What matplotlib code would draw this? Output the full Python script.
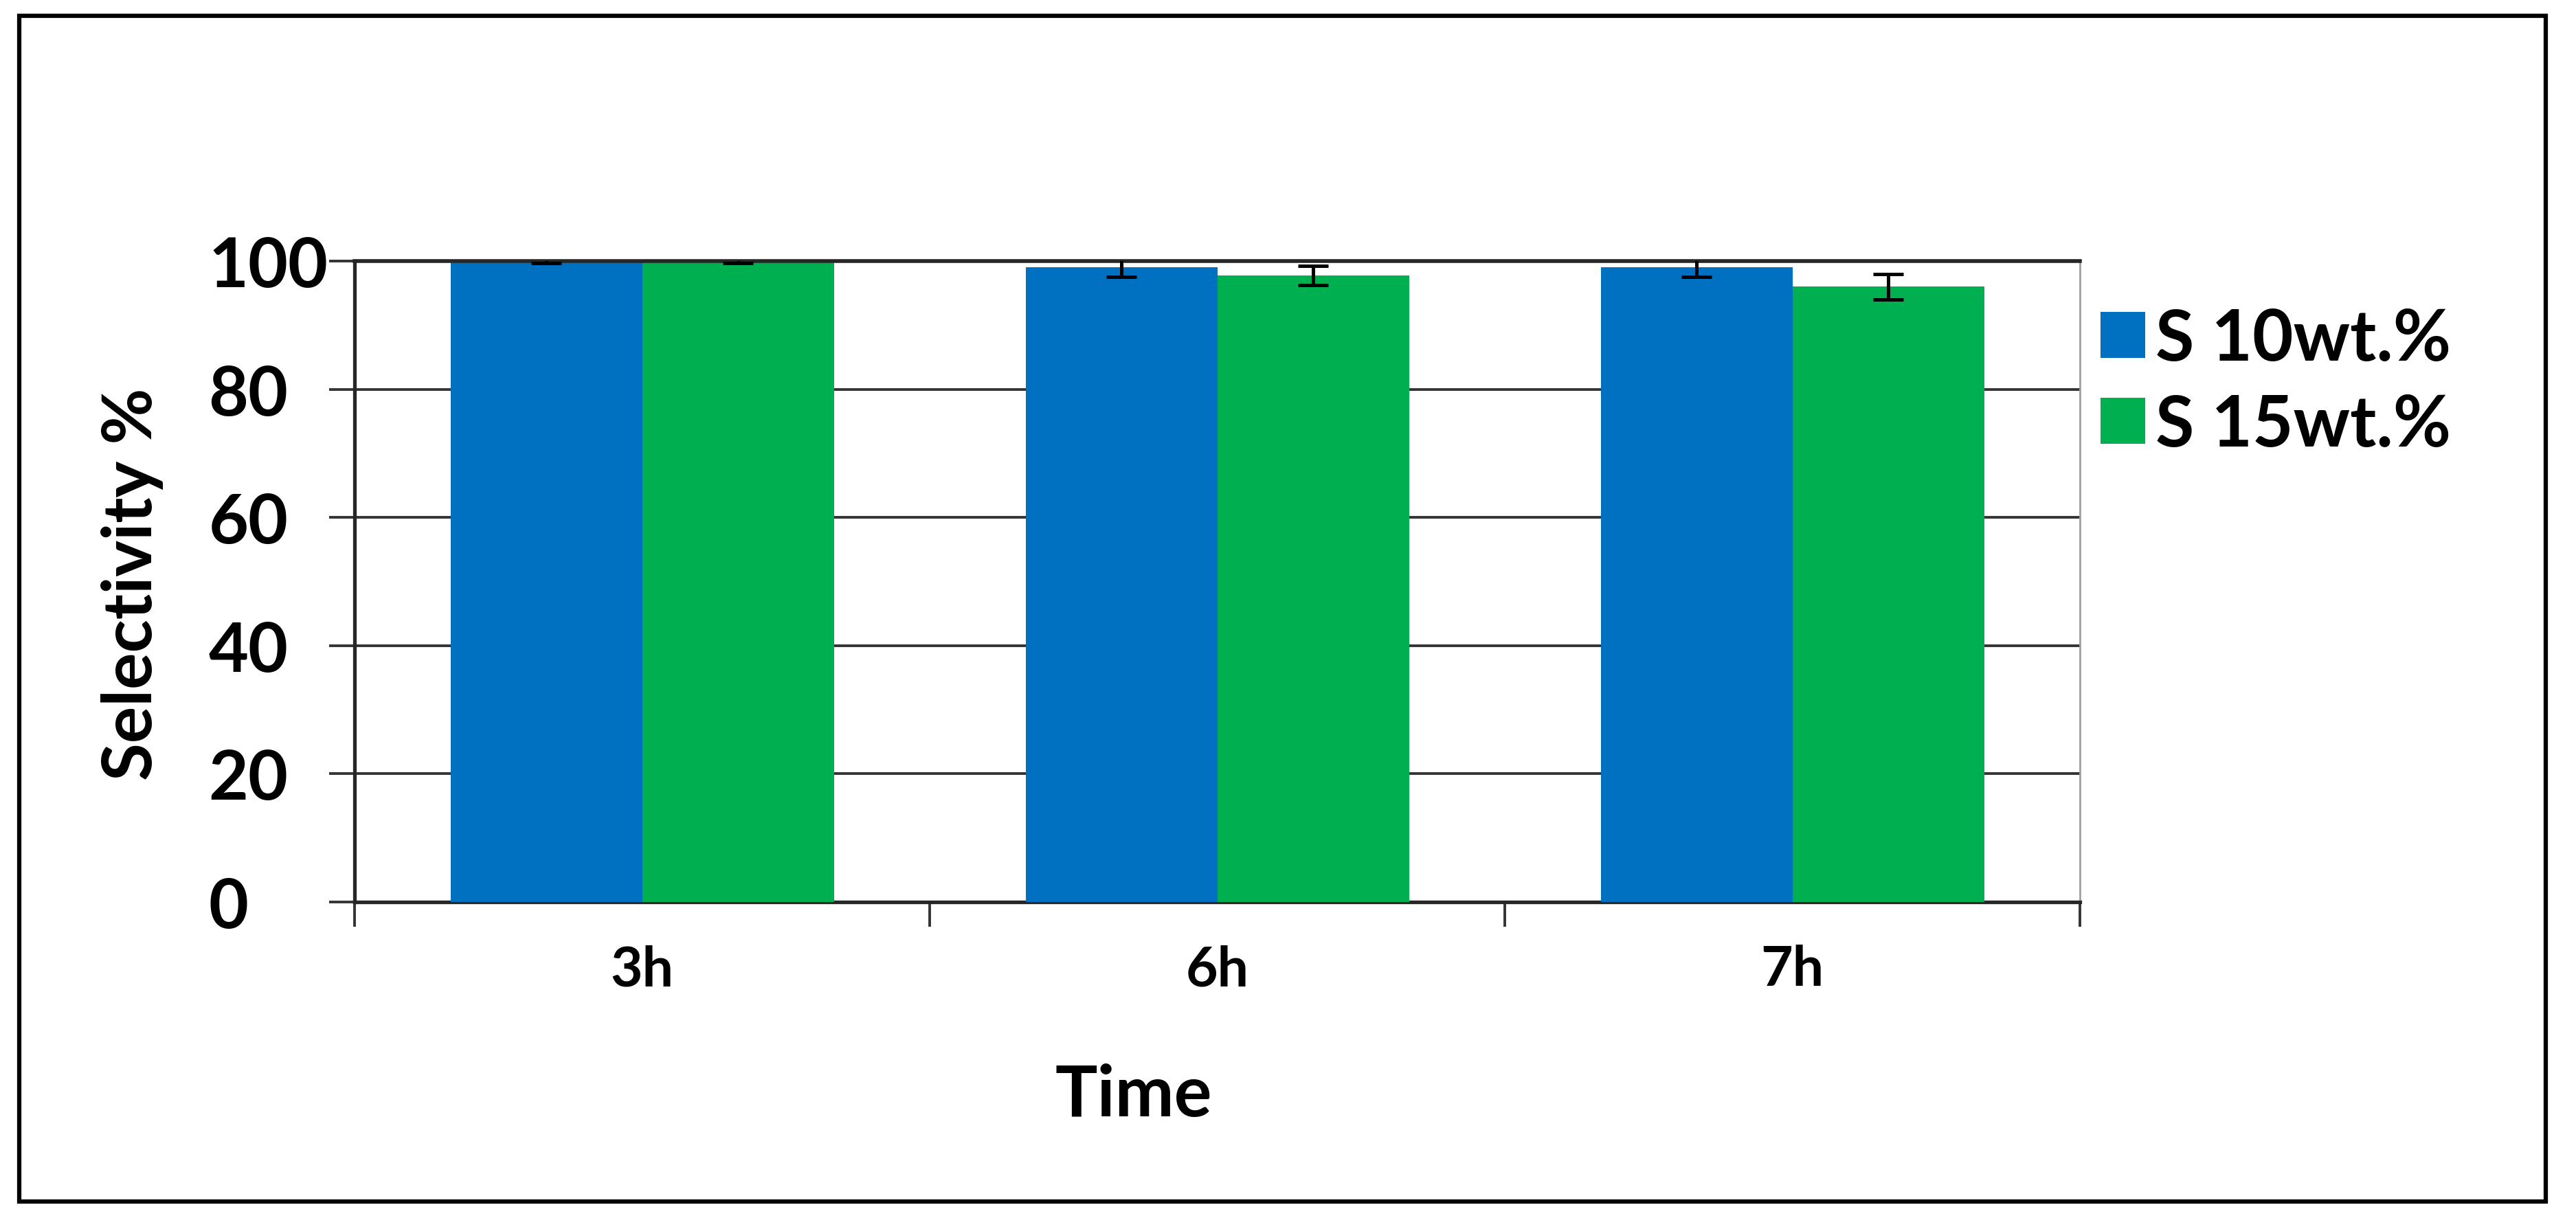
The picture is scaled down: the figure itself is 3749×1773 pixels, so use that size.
import numpy as np
import matplotlib
matplotlib.use("Agg")
import matplotlib.pyplot as plt
from matplotlib.patches import Rectangle

times = ["3h", "6h", "7h"]
series = ["S 10wt.%", "S 15wt.%"]
s10 = [100.0, 99.0, 99.0]
s15 = [100.0, 97.7, 96.0]
s10_err = [0.3, 1.5, 1.5]
s15_err = [0.3, 1.5, 2.0]
yticks = [0, 20, 40, 60, 80, 100]

BLUE = "#0070C0"
GREEN = "#00B050"
W, H, DPI = 3749, 1774, 100

plt.rcParams["font.family"] = ["Lato", "DejaVu Sans"]
plt.rcParams["font.weight"] = "bold"

fig = plt.figure(figsize=(W / DPI, H / DPI), dpi=DPI)
ax = fig.add_axes([516 / W, 1 - 1314 / H, (3027 - 516) / W, (1314 - 381) / H])

x = np.arange(len(times)) + 0.5
w = 1 / 3
err_kw = dict(ecolor="black", elinewidth=3.6, capsize=16, capthick=3.6, zorder=5)
ax.bar(x - w / 2, s10, w, color=BLUE, label=series[0], yerr=s10_err,
       error_kw=err_kw, zorder=3)
ax.bar(x + w / 2, s15, w, color=GREEN, label=series[1], yerr=s15_err,
       error_kw=err_kw, zorder=3)

ax.set_xlim(0, len(times))
ax.set_ylim(0, 100)

# gridlines at each y tick, the top one sits over the bars
ax.set_yticks(yticks)
ax.yaxis.grid(True, color="#333333", linewidth=2.8, zorder=1)
ax.set_axisbelow(True)
ax.axhline(yticks[-1], color="#262626", linewidth=4.0, zorder=4, clip_on=False)

# y labels left-aligned like the original
ax.tick_params(axis="y", direction="out", length=27, width=2.8, color="#333333",
               labelsize=72, pad=126)
for lab in ax.get_yticklabels():
    lab.set_horizontalalignment("left")
    lab.set_fontweight("bold")

# category boundaries carry the ticks, centres carry the labels
ax.set_xticks(np.arange(len(times) + 1))
ax.set_xticklabels([])
ax.set_xticks(x, minor=True)
ax.set_xticklabels(times, minor=True, fontsize=58, fontweight="bold")
ax.tick_params(axis="x", which="major", direction="out", length=26, width=2.8,
               color="#333333")
ax.tick_params(axis="x", which="minor", length=0, pad=44)

for side in ["left", "bottom"]:
    ax.spines[side].set_color("#262626")
    ax.spines[side].set_linewidth(3.8)
ax.spines["top"].set_visible(False)
ax.spines["right"].set_color("#a0a0a0")
ax.spines["right"].set_linewidth(2.0)

fig.text(1650 / W, 1 - 1625 / H, "Time", fontsize=74, fontweight="bold",
         ha="center", va="baseline")
fig.text(192 / W, 1 - 850 / H, "Selectivity %", fontsize=72, fontweight="bold",
         rotation=90, ha="center", va="center")

fig.legend(loc="upper left", bbox_to_anchor=(3057 / W, 1 - 448 / H), frameon=False,
           handlelength=0.63, handleheight=0.63, handletextpad=0.15,
           labelspacing=0.30, borderpad=0, borderaxespad=0,
           prop=dict(weight="bold", size=74))

# outer frame
fig.patches.append(Rectangle((28 / W, 1 - 1750 / H), (3705 - 28) / W, (1750 - 24) / H,
                             transform=fig.transFigure, fill=False,
                             edgecolor="black", linewidth=4.5))

fig.savefig("out.png", dpi=DPI, facecolor="white")
